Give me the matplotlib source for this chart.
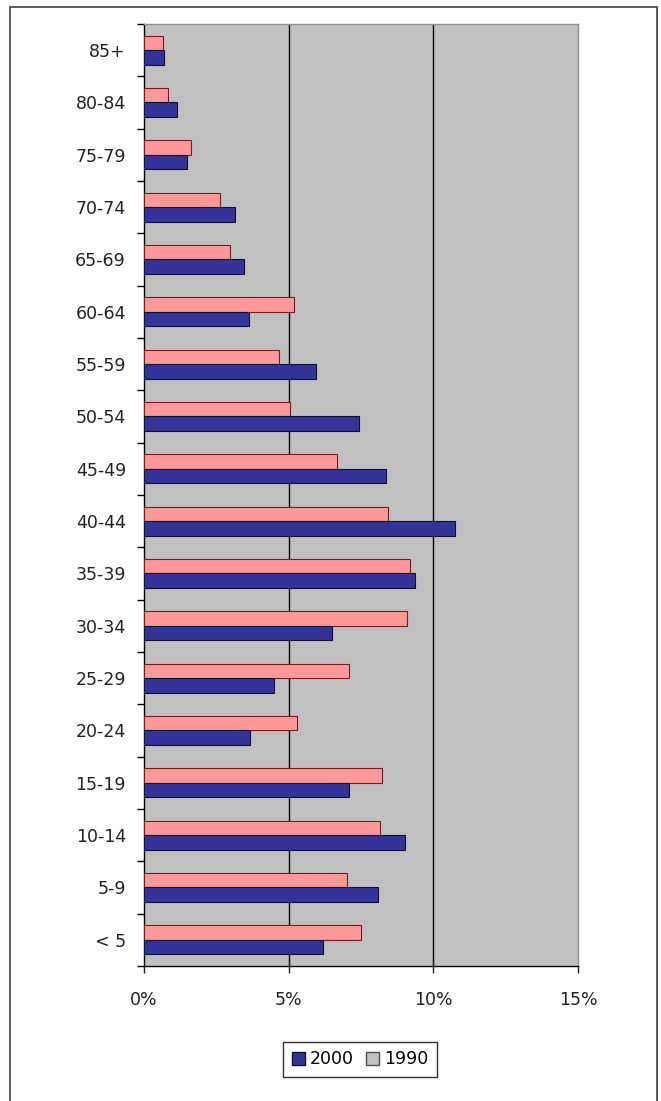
import matplotlib
matplotlib.use("Agg")
import matplotlib.pyplot as plt
from matplotlib.patches import Patch, Rectangle
from matplotlib.ticker import FuncFormatter, FixedLocator
import numpy as np

# Data (top to bottom as shown)
categories = ["85+", "80-84", "75-79", "70-74", "65-69", "60-64", "55-59", "50-54",
              "45-49", "40-44", "35-39", "30-34", "25-29", "20-24", "15-19", "10-14",
              "5-9", "< 5"]
pct_2000 = [0.70, 1.15, 1.50, 3.16, 3.44, 3.63, 5.95, 7.42, 8.36, 10.76, 9.35, 6.49,
            4.49, 3.68, 7.09, 9.03, 8.10, 6.17]
pct_1990 = [0.67, 0.82, 1.63, 2.62, 2.96, 5.20, 4.68, 5.06, 6.66, 8.42, 9.20, 9.09,
            7.07, 5.28, 8.22, 8.14, 7.01, 7.49]
x_ticks = [0, 5, 10, 15]

plt.rcParams['font.family'] = ['DejaVu Sans']

W, H = 661, 1101
fig = plt.figure(figsize=(W / 100, H / 100), dpi=100)
fig.patch.set_facecolor('white')

left, right, top, bottom = 144, 578, 24, 966
ax = fig.add_axes([left / W, 1 - bottom / H, (right - left) / W, (bottom - top) / H])
ax.set_facecolor('#c0c0c0')

y = np.arange(len(categories))
h = 0.277
ax.barh(y - h / 2, pct_1990, height=h, color='#ff9999', edgecolor='#7a1a1a',
        linewidth=0.8, zorder=3, label='1990')
ax.barh(y + h / 2, pct_2000, height=h, color='#333399', edgecolor='#101030',
        linewidth=0.8, zorder=3, label='2000')

ax.set_ylim(len(categories) - 0.5, -0.5)
ax.set_xlim(0, 15)

# y ticks: labels at centers, tick marks at boundaries
ax.set_yticks(y)
ax.set_yticklabels(categories, fontsize=12.5, color='#222222')
ax.tick_params(axis='y', which='major', length=0, pad=13)
ax.yaxis.set_minor_locator(FixedLocator(np.arange(-0.5, len(categories) + 0.5, 1.0)))
ax.tick_params(axis='y', which='minor', length=5, width=1, direction='out', color='black')

ax.set_xticks(x_ticks)
ax.xaxis.set_major_formatter(FuncFormatter(lambda v, p: f"{v:.0f}%"))
ax.tick_params(axis='x', length=5, width=1, direction='out', pad=13, labelsize=12.5,
               colors='#222222')

for xv in x_ticks[1:-1]:
    ax.axvline(xv, color='black', linewidth=1, zorder=2)

ax.spines['left'].set_color('black')
ax.spines['bottom'].set_color('black')
ax.spines['top'].set_color('#909090')
ax.spines['right'].set_color('#909090')
for s in ax.spines.values():
    s.set_linewidth(1)

handles = [Patch(facecolor='#333399', edgecolor='#101030'),
           Patch(facecolor='#c0c0c0', edgecolor='#505050')]
leg = fig.legend(handles, ['2000', '1990'], ncol=2, loc='center',
                 bbox_to_anchor=(360 / W, 1 - 1059.5 / H), fontsize=12.5,
                 frameon=True, fancybox=False, edgecolor='black',
                 handlelength=0.75, handleheight=0.85, handletextpad=0.3,
                 columnspacing=0.7, borderpad=0.5)
leg.get_frame().set_linewidth(1)

# outer frame
fig.patches.append(Rectangle((10 / W, -0.05), (657 - 10) / W, 1.05 - 7 / H,
                             transform=fig.transFigure, fill=False,
                             edgecolor='#404040', linewidth=1.2))

fig.savefig("out.png", dpi=100, facecolor='white')
